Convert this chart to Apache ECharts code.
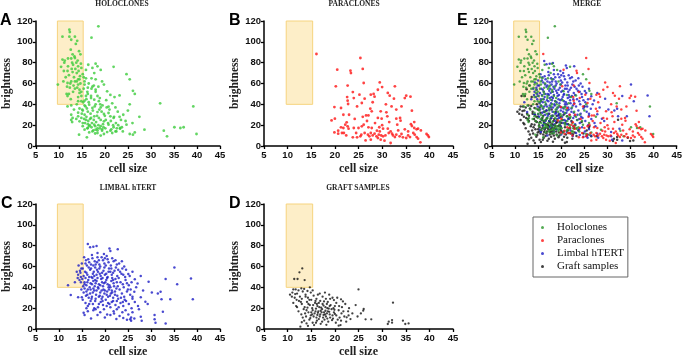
<!DOCTYPE html>
<html>
<head>
<meta charset="utf-8">
<script src="https://cdn.jsdelivr.net/npm/echarts/dist/echarts.min.js"></script>
<style>
  html, body { margin: 0; padding: 0; background: #fff; }
  #chart { width: 685px; height: 359px; }
</style>
</head>
<body>
<div id="chart"></div>
<script>
// values: [cell size, brightness]
const holoclones = [
  [18.6,114.9],[12.3,111.7],[12.4,109.4],[10.8,105],[12.3,105],[13.5,105],[17.1,104],[12.7,102],[14.0,101],[13.7,98],
  [12.6,92.5],[14.4,91],[14.7,88],[13.0,88],[10.8,83],[12.7,84],[13.5,84.5],[11.2,80],[13.8,80],[13.1,78],
  [16.4,78],[18.0,79],[18.4,76.5],[17.3,75],[12.0,76.5],[14.2,76.5],[14.9,75],[15.9,73],[21.9,76],[19.1,73],
  [11.1,72],[13.0,71],[13.9,70],[15.2,69],[17.7,70],[17.1,65],[18.0,64],[15.9,65],[15.6,62],[14.2,64],
  [13.5,62],[11.9,60.5],[12.7,62],[14.2,59],[24.7,69],[25.4,64],[19.4,62],[19.8,59],[9.8,59],[15.6,59],
  [16.3,56],[17.3,57],[12.4,56],[13.5,55],[14.5,54],[15.4,55],[17.1,55],[18.0,54],[18.6,57],[26.1,53],
  [26.5,50],[20.5,52.5],[21.2,49],[11.7,50],[11.9,48],[14.5,51],[14.9,48],[16.3,50],[17.0,46],[18.4,48],
  [22.1,47],[23.2,48.6],[17.7,44.5],[18.7,43],[18.0,40],[14.2,43],[15.6,43.5],[25.4,40],[32.0,41],[39.2,38],
  [11.9,38],[12.7,39],[15.6,39],[16.6,39.7],[17.3,36.5],[19.1,37],[20.4,37],[20.8,37.8],[22.3,37],[14.5,36],
  [15.2,34],[16.3,33],[15.6,30],[18.4,32.6],[19.8,30.7],[20.8,31.7],[12.7,30],[13.0,27],[14.2,28.5],[14.9,27],
  [15.9,25],[17.0,27],[17.7,28.5],[18.7,27],[19.8,23.7],[21.2,28.5],[21.9,27],[23.2,28],[27.5,28],[12.7,25],
  [12.9,23],[14.5,23.7],[15.2,22],[16.3,21],[16.6,19],[17.7,20.5],[18.4,17],[19.1,19],[20.1,17],[20.8,20.5],
  [21.9,18],[22.6,17],[23.3,16.6],[24.7,20.5],[15.6,15.7],[16.3,17.3],[17.3,14],[18.0,15.7],[19.4,14.7],[21.2,14.7],
  [22.3,14],[23.3,17.3],[23.7,18],[28.6,15.7],[32.8,14.7],[35.1,18],[36.4,17.3],[37.1,18],[18.4,12.5],[20.5,13.4],
  [21.6,12.5],[22.5,14],[25.4,11.5],[26.1,10.9],[26.5,13],[14.4,10.9],[19.1,10],[19.8,11.5],[16.1,8.3],[33.5,9.3],
  [39.9,11.5],[11.5,66],[12.2,68],[12.8,74],[13.3,66],[13.9,62],[14.3,72],[14.6,67],[11.8,57],[12.5,60],
  [13.2,58],[14.0,56],[14.7,60],[12.0,84],[13.4,86],[14.1,82],[12.9,80],[13.6,74],[14.8,79],[11.3,82],
  [14.5,64],[13.1,52],[12.2,50],[14.2,47],[11.0,62],[12.6,45],[10.5,76],[11.9,72],[14.9,52],[15.3,42],
  [15.8,38],[16.1,36],[16.5,42],[16.9,31],[17.4,34],[17.8,38],[18.3,29],[18.8,35],[19.3,33],[15.5,26],
  [16.0,28],[16.4,24],[16.8,26],[17.2,22],[17.6,25],[18.1,23],[18.6,20],[19.1,25],[19.6,21],[15.2,19],
  [15.7,22],[16.2,17],[16.7,20],[17.1,18],[17.5,15],[17.9,19],[18.4,15],[18.9,17],[19.4,16],[20.2,25],
  [20.7,22],[21.3,24],[21.8,20],[22.4,22],[15.0,31],[16.0,45],[17.0,48],[18.0,52],[16.5,60],[15.4,66],
  [16.2,52],[17.6,58],[18.9,46],[19.5,39],[20.3,44],[21.0,35],[21.6,41],[22.8,33],[23.5,25],[24.0,30],
  [22.0,28],[20.0,29],[19.0,40],[15.9,48],[14.9,43],[13.9,40],[13.3,35],[14.2,32],[13.8,26],[15.1,35],
  [16.6,13],[17.9,12],[19.7,18],[21.4,16],[22.9,20],[23.9,14],[24.5,24],[26.0,22],[25.0,34]
];

const paraclones = [
  [16.1,88.3],[25.4,84.5],[20.5,73.3],[23.3,72.3],[23.4,70],[25.9,74],[26.1,60.5],[20.2,57.3],[22.7,58],[29.5,61],
  [30.0,56.6],[32.7,57.3],[23.8,51.8],[25.2,49.3],[27.6,49.3],[28.2,50],[28.4,47.4],[29.1,54],[31.2,51],[31.6,48.3],
  [32.5,45.4],[34.8,46],[35.1,48.3],[36.0,47.4],[22.6,47],[22.7,43.5],[26.3,45.4],[25.7,41.3],[22.8,40.3],[24.7,38],
  [19.9,37.4],[21.3,36.5],[27.5,35.8],[27.8,33.3],[29.7,33.3],[30.9,32.3],[33.0,35],[34.1,38],[36.3,33.9],[26.6,29.4],
  [27.1,29.4],[29.1,27],[29.9,26.2],[31.1,28.5],[19.3,24.6],[20.0,26.2],[22.5,22.7],[22.2,20.5],[22.7,18.9],[21.3,17.9],
  [21.8,17.3],[24.0,17.3],[22.9,16.6],[25.0,17.3],[25.7,18.9],[26.1,20.5],[27.1,17.9],[27.8,17.3],[28.9,14.7],[29.5,14],
  [30.2,16.6],[31.2,16.6],[31.8,14],[33.0,26.2],[33.8,27],[33.9,24.3],[33.2,20.5],[36.1,21],[36.3,19.2],[36.8,17.3],
  [37.3,16],[37.6,16.6],[19.9,13],[20.7,11.8],[21.9,12.5],[22.4,10.2],[23.8,8.3],[24.7,8.3],[25.4,9.3],[25.6,10.9],
  [26.3,12.5],[27.0,10.9],[27.3,9.3],[27.6,12.5],[28.0,10.2],[28.4,11.8],[28.8,9.3],[29.3,10.9],[29.8,10.2],[30.2,9.3],
  [30.7,10.2],[26.5,5.4],[27.6,6.1],[29.7,6.1],[30.5,5.1],[31.8,2.9],[32.3,10.2],[32.7,8.6],[33.0,10.9],[33.7,9.3],
  [34.1,11.5],[34.4,8.3],[35.1,7.7],[35.5,10.2],[35.9,8.6],[36.6,12.5],[36.9,10.9],[37.3,8.6],[37.6,7],[38.1,3.5],
  [39.4,11.5],[39.7,10.2],[39.9,8.6],[21.5,12.5],[20.7,14.7],[24.5,12.5],[32.1,11.8],[31.4,12.5],[29.1,7.7],[23.0,30],
  [24.2,26],[26.8,24],[28.5,22],[30.0,20],[31.5,23],[34.8,16],[35.5,14],[36.8,23],[38.2,15],[21.8,30],
  [25.9,28],[29.4,18],[33.4,15],[30.8,40],[28.0,42],[24.0,46],[32.0,38]
];

const limbalHtert = [
  [16.3,81.6],[16.8,78.4],[18.2,79.7],[21.0,77.4],[21.2,75],[17.5,79],[19.8,72],[18.4,73],[20.4,70],[17.2,71],
  [22.8,76.5],[15.9,66],[16.6,64],[17.3,68],[18.0,62],[18.7,66],[19.3,69],[19.9,63],[20.6,67],[21.3,61],
  [21.9,65],[22.6,62],[23.7,65],[24.2,60],[16.1,61],[17.8,65],[19.0,60],[20.2,61],[21.6,68],[22.3,66],
  [15.5,69],[18.4,69],[23.1,63],[17.0,62],[15.2,58],[15.7,55],[16.2,52],[16.8,57],[17.4,53],[17.9,59],
  [18.5,55],[19.1,51],[19.7,56],[20.3,53],[20.9,58],[21.5,52],[22.1,56],[22.7,51],[23.3,55],[24.0,52],
  [24.6,57],[25.4,50.9],[25.1,52.8],[27.8,50.9],[15.4,51],[16.5,59],[17.7,51],[18.8,58],[19.4,54],[20.6,50],
  [21.2,55],[22.4,59],[23.8,58],[26.0,55],[16.0,54],[17.1,50],[18.2,52],[19.9,59],[21.8,54],[14.3,61],
  [14.6,56],[14.2,52],[14.8,50],[14.5,47],[14.9,58],[14.1,49],[14.7,54],[15.1,48],[15.6,45],[16.0,42],
  [16.4,47],[16.9,44],[17.3,49],[17.8,41],[18.2,46],[18.7,43],[19.2,48],[19.6,41],[20.1,45],[20.5,49],
  [21.0,42],[21.4,46],[21.9,44],[22.3,48],[22.8,41],[23.4,45],[23.9,43],[24.5,47],[25.2,42],[26.5,47.7],
  [27.1,43.8],[29.5,45.4],[33.2,48],[35.7,43],[38.7,48.6],[12.0,42],[15.3,41],[16.7,40],[18.0,44],[19.4,45],
  [20.8,40],[22.0,41],[24.1,40],[25.8,45],[17.5,46],[20.3,47],[23.0,49],[15.8,49],[18.5,40],[14.9,38],
  [15.4,35],[15.9,32],[16.3,38],[16.8,34],[17.2,31],[17.7,37],[18.1,33],[18.6,39],[19.0,35],[19.5,31],
  [20.0,37],[20.4,33],[20.9,38],[21.3,34],[21.8,30],[22.2,36],[22.7,32],[23.2,38],[23.7,34],[24.2,31],
  [24.8,36],[25.5,33],[26.4,35.8],[27.8,30.4],[30.2,35],[31.5,34.2],[32.1,35.8],[12.6,32.6],[14.2,30.4],[15.0,30.5],
  [16.0,36],[17.5,39],[18.9,32],[20.7,31],[22.5,39],[25.0,38],[26.0,31],[28.3,37],[16.5,30],[19.7,38],
  [21.5,37],[23.5,30],[15.2,28],[15.8,25],[16.3,22],[16.9,27],[17.4,24],[18.0,29],[18.5,21],[19.1,26],
  [19.6,23],[20.2,28],[20.7,25],[21.2,21],[21.8,27],[22.3,23],[22.9,29],[23.4,25],[24.0,22],[24.6,27],
  [25.2,24],[25.8,20],[26.5,26],[27.2,22],[28.8,26.2],[32.3,28.5],[34.2,28.5],[39.1,28.5],[17.7,20],[19.3,29],
  [21.0,24],[23.0,21],[16.0,20],[24.3,28],[26.0,29],[29.3,24],[15.4,15.7],[15.6,13.4],[16.3,17],[17.0,10.2],
  [17.5,18],[18.4,13.4],[19.0,16],[19.8,19],[20.5,14],[21.2,13.4],[21.9,17],[22.6,19],[23.2,12.5],[23.8,16],
  [24.5,18],[25.1,14],[25.7,11],[26.4,10.2],[27.4,18.9],[27.8,11.8],[30.8,13.4],[32.6,16.6],[18.0,19],[20.0,11],
  [22.0,15],[24.0,10.5],[26.0,16],[25.5,9.3],[25.7,8],[30.8,9.3],[31.0,6.1],[33.2,5.4],[28.0,8],[24.8,9],
  [22.5,9.5],[35.1,59],[13.5,45],[17.0,58],[17.6,55],[18.3,57],[18.9,53],[19.5,49],[20.0,52],[20.8,55],
  [21.6,49],[16.6,50],[16.2,45],[17.2,43],[17.9,47],[18.4,49],[19.0,42],[19.8,44],[20.6,43],[21.2,40],
  [21.8,47],[22.6,45],[15.6,43],[16.9,38],[17.4,35],[18.2,37],[18.7,31],[19.3,37],[19.9,34],[20.5,36],
  [21.1,32],[21.6,35],[22.2,33],[16.2,33],[15.6,39],[17.9,27],[18.7,24],[19.5,27],[20.4,22],[21.5,26],
  [22.6,27],[23.9,26],[17.1,29],[16.6,24],[18.3,64],[19.6,66],[20.8,64],[17.5,61],[15.8,63],[15.0,63],
  [14.8,45],[13.9,55],[24.8,44],[25.6,38],[26.8,40],[24.4,50],[23.6,53],[22.9,57],[20.0,68],[18.8,62],
  [21.4,58],[16.4,67]
];

const graftSamples = [
  [13.1,58.2],[12.5,54.4],[11.4,48],[12.1,48],[13.6,47],[11.2,38],[11.7,38],[12.9,39],[14.7,40],[25.0,38],
  [10.5,33],[11.0,35],[12.0,34],[12.6,31],[13.2,36],[13.8,33],[14.3,30],[14.9,35],[15.5,32],[16.1,29],
  [16.8,34],[17.4,31],[18.1,29],[18.8,33],[19.5,30],[13.0,29],[15.0,28],[17.9,35],[19.8,27.8],[21.3,28.5],
  [11.5,30],[12.3,37],[11.2,25],[11.8,22],[12.4,27],[13.0,24],[13.6,21],[14.1,26],[14.7,23],[15.2,20],
  [15.8,25],[16.3,22],[16.9,27],[17.4,24],[18.0,21],[18.5,26],[19.1,23],[19.7,20],[20.3,25],[20.9,22],
  [21.5,21],[22.2,24],[23.0,20],[24.4,23],[26.1,19.2],[32.3,25.3],[12.0,21],[14.4,24],[16.6,25],[18.3,24],
  [20.0,22],[17.1,20.5],[21.7,26.5],[12.3,17],[12.9,14],[13.4,19],[13.9,12],[14.4,16],[14.9,13],[15.3,18],
  [15.7,15],[16.1,11],[16.5,17],[16.9,14],[17.3,19],[17.7,16],[18.1,12],[18.5,17],[18.9,14],[19.3,19],
  [19.8,16],[20.3,13],[20.8,18],[21.4,15],[22.0,12],[22.5,11.2],[23.7,15],[26.0,17.6],[13.2,11],[14.0,18],
  [15.0,16],[16.3,13.5],[17.5,11],[18.3,15],[19.0,11],[20.0,14.5],[21.0,11],[15.5,12],[17.0,17.5],[18.7,19.5],
  [16.0,19.5],[19.5,13],[21.8,17],[12.7,2.2],[14.0,5.4],[15.6,3.8],[13.5,8],[14.6,9],[15.3,6],[16.2,8],
  [17.0,5],[17.8,9],[18.6,7],[19.4,8.5],[20.2,6],[21.2,3.8],[20.8,3.2],[22.4,7],[16.6,9.5],[26.5,9.3],
  [27.7,9.3],[31.2,4.8],[31.4,7],[32.1,8.6],[32.1,6.1],[34.4,8],[34.9,4.8],[35.6,5.4],[13.0,6.5],[18.2,4],
  [15.2,14],[15.9,17],[16.4,15.5],[16.8,12],[17.2,16],[17.6,13.5],[18.0,17.5],[18.4,10],[18.8,16.5],[17.9,14],
  [16.7,21],[17.6,22.5],[18.9,22],[15.4,23],[14.2,20.5],[13.7,15],[14.8,10.5],[19.6,10],[20.6,9],[21.3,8],
  [19.9,18.5],[17.3,7],[16.0,6],[14.3,3],[13.8,31],[12.8,26],[11.9,28],[10.9,31],[11.6,33.5],[13.5,38.5],
  [14.2,36.5],[15.3,37],[16.4,33],[20.5,30],[19.0,29],[22.8,17],[24.8,12],[25.5,15],[23.3,9.5],[22.9,13],
  [18.4,20],[16.2,24],[17.7,26.5],[15.9,27],[14.6,28]
];

const seriesNames = ['Holoclones', 'Paraclones', 'Limbal hTERT', 'Graft samples'];
const panelTitles = ['HOLOCLONES', 'PARACLONES', 'MERGE', 'LIMBAL hTERT', 'GRAFT SAMPLES'];
const panelLetters = ['A', 'B', 'E', 'C', 'D'];
const xTicks = { min: 5, max: 45, interval: 5 };
const yTicks = { min: 0, max: 120, interval: 20 };
const gateBox = [[9.7, 40], [15.3, 120]];

const chart = echarts.init(document.getElementById('chart'));

// A, B, E on top row; C, D below
const grids = [
  { left: 33, top: 21, width: 187, height: 125 },
  { left: 264, top: 21, width: 189, height: 125 },
  { left: 492, top: 21, width: 188, height: 125 },
  { left: 33, top: 204, width: 187, height: 125 },
  { left: 264, top: 204, width: 189, height: 125 }
];

const colors = {
  holo: '#3ccc3c',
  holoMerge: '#2b962b',
  para: '#ff1414',
  limbal: '#1c1cc4',
  graft: '#111111'
};

const serif = '"Liberation Serif", "Times New Roman", serif';
const sans = '"Liberation Sans", Arial, sans-serif';

function xAxisFor(i) {
  return {
    gridIndex: i, type: 'value', min: xTicks.min, max: xTicks.max, interval: xTicks.interval,
    splitLine: { show: false },
    axisLine: { onZero: false, lineStyle: { color: '#000', width: 1.5 } },
    axisTick: { length: 3, lineStyle: { color: '#000', width: 1.3 } },
    axisLabel: { color: '#111', fontWeight: 'bold', fontSize: 9.5, fontFamily: sans, margin: 4 },
    name: 'cell size', nameLocation: 'middle', nameGap: 17,
    nameTextStyle: { fontFamily: serif, fontWeight: 'bold', fontSize: 12, color: '#222' }
  };
}

function yAxisFor(i) {
  return {
    gridIndex: i, type: 'value', min: yTicks.min, max: yTicks.max, interval: yTicks.interval,
    splitLine: { show: false },
    axisLine: { onZero: false, lineStyle: { color: '#000', width: 1.5 } },
    axisTick: { length: 3, lineStyle: { color: '#000', width: 1.3 } },
    axisLabel: { color: '#111', fontWeight: 'bold', fontSize: 9.5, fontFamily: sans, margin: 3 },
    name: 'brightness', nameLocation: 'middle', nameGap: 20,
    nameTextStyle: { fontFamily: serif, fontWeight: 'bold', fontSize: 11.5, color: '#222' }
  };
}

function gate() {
  return {
    silent: true,
    itemStyle: { color: '#fdeec8', borderColor: '#f6d37e', borderWidth: 1 },
    data: [[{ coord: gateBox[0] }, { coord: gateBox[1] }]]
  };
}

function dots(name, data, i, color, size, withGate) {
  const s = {
    name: name, type: 'scatter', xAxisIndex: i, yAxisIndex: i, data: data,
    symbol: 'circle', symbolSize: size, itemStyle: { color: color }, silent: true
  };
  if (withGate) s.markArea = gate();
  return s;
}

const series = [
  dots(seriesNames[0], holoclones, 0, colors.holo, 2.8, true),
  dots(seriesNames[1], paraclones, 1, colors.para, 2.8, true),
  dots(seriesNames[3], graftSamples, 2, colors.graft, 2.5, true),
  dots(seriesNames[2], limbalHtert, 2, colors.limbal, 2.5, false),
  dots(seriesNames[0], holoclones, 2, colors.holoMerge, 2.5, false),
  dots(seriesNames[1], paraclones, 2, colors.para, 2.5, false),
  dots(seriesNames[2], limbalHtert, 3, colors.limbal, 2.5, true),
  dots(seriesNames[3], graftSamples, 4, colors.graft, 2.3, true)
];

const titleX = [122, 354, 587, 128, 358];
const titleY = [0, 0, 0, 184, 184];
const letterPos = [[0, 13], [229, 13], [457, 13], [1, 196], [229, 196]];

const graphic = [];
panelTitles.forEach((t, i) => {
  graphic.push({
    type: 'text', x: titleX[i], y: titleY[i],
    style: { text: t, fill: '#222', font: 'bold 7.5px ' + serif, align: 'center', verticalAlign: 'top' }
  });
  graphic.push({
    type: 'text', x: letterPos[i][0], y: letterPos[i][1],
    style: { text: panelLetters[i], fill: '#000', font: 'bold 16px ' + sans, align: 'left', verticalAlign: 'top' }
  });
});

chart.setOption({
  animation: false,
  backgroundColor: '#fff',
  grid: grids,
  xAxis: grids.map((g, i) => xAxisFor(i)),
  yAxis: grids.map((g, i) => yAxisFor(i)),
  legend: {
    orient: 'vertical', left: 533, top: 217,
    selectedMode: false,
    borderColor: '#666', borderWidth: 1,
    padding: [5, 4, 5, 8], itemGap: 2,
    icon: 'circle', itemWidth: 3, itemHeight: 3,
    textStyle: { fontFamily: serif, fontSize: 11, color: '#111', padding: [0, 0, 0, 8] },
    data: [
      { name: seriesNames[0], itemStyle: { color: colors.holoMerge } },
      { name: seriesNames[1], itemStyle: { color: colors.para } },
      { name: seriesNames[2], itemStyle: { color: colors.limbal } },
      { name: seriesNames[3], itemStyle: { color: colors.graft } }
    ]
  },
  graphic: graphic,
  series: series
});
</script>
</body>
</html>
